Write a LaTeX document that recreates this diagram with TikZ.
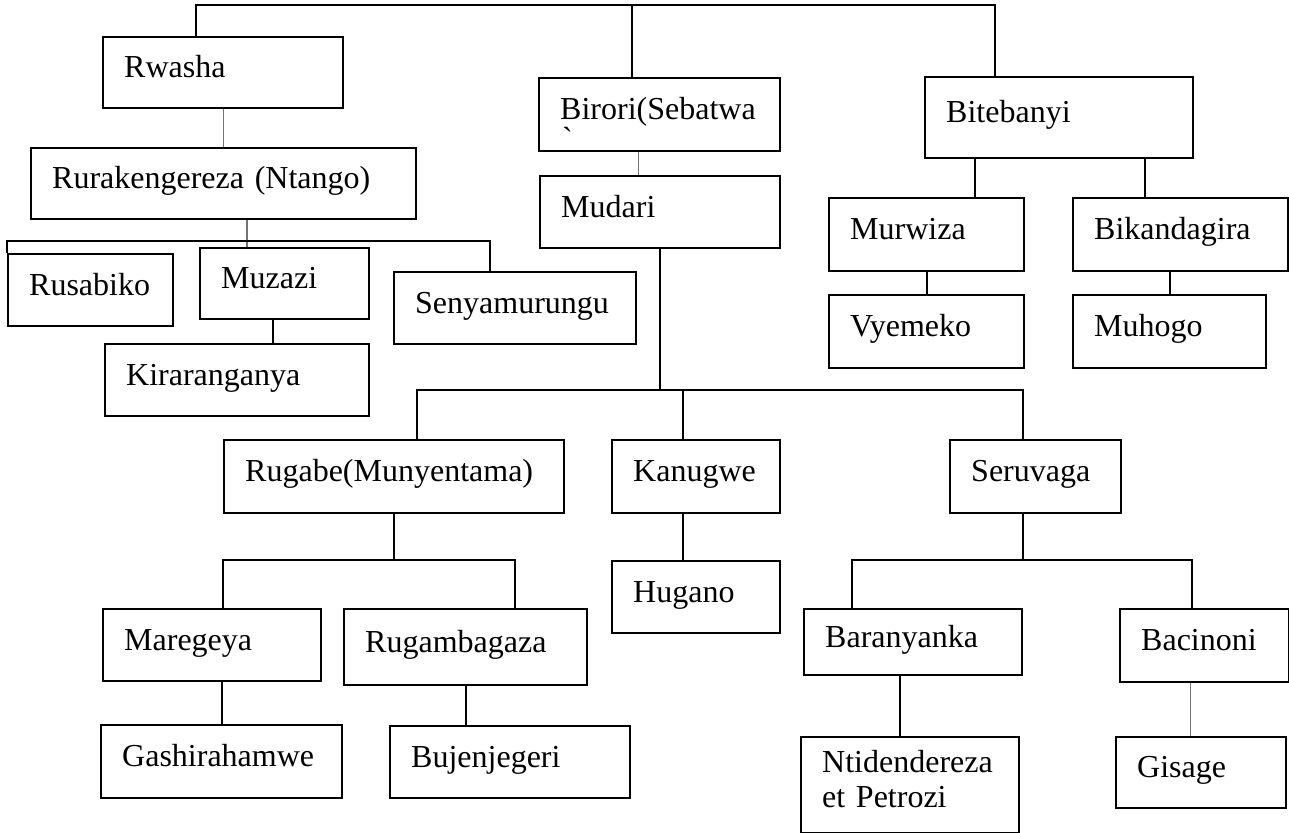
\documentclass[tikz,border=0pt]{standalone}
\usepackage{fontspec}
\setmainfont{Liberation Serif}
\hyphenpenalty=10000

\begin{document}
\begin{tikzpicture}[
  x=0.5pt, y=-0.5pt,
  every node/.style={font=\fontsize{16}{17.5}\selectfont},
  box/.style={rectangle, draw=black, line width=1.2pt, anchor=north west, align=left, inner xsep=10.5pt, inner ysep=0pt,
    execute at begin node={\rule[-6pt]{0pt}{17pt}}, execute at end node={\rule[-6pt]{0pt}{17pt}}},
  link/.style={draw=black, line width=0.9pt},
  thinlink/.style={draw=black!55, line width=0.6pt},
]
\useasboundingbox (0,0) rectangle (1289,833);

%% Row 1: Rwasha, Birori, Bitebanyi
\node[box, text width=99pt,   minimum height=35.5pt] (rwasha) at (102,36)  {Rwasha};
\node[box, text width=99.5pt, minimum height=36.5pt] (birori) at (538,77)  {\smash{\rlap{\kern1pt\raisebox{-15pt}{\textasciigrave}}}Birori(Sebatwa};
\node[box, text width=113pt,  minimum height=40.5pt] (bite)   at (924,76)  {Bitebanyi};

%% Rwasha branch
\node[box, text width=171.5pt, minimum height=35.5pt] (rurak)    at (30,147)  {Rurakengereza (Ntango)};
\node[box, text width=61.5pt,  minimum height=36pt]   (rusabiko) at (7,253)   {Rusabiko};
\node[box, text width=63.5pt,  minimum height=35.5pt] (muzazi)   at (199,247) {Muzazi};
\node[box, text width=100pt,   minimum height=36pt]   (senya)    at (393,271) {Senyamurungu};
\node[box, text width=111pt,   minimum height=36pt]   (kirar)    at (104,343) {Kiraranganya};

%% Birori branch
\node[box, text width=99pt,  minimum height=36pt]   (mudari)   at (539,175) {Mudari};
\node[box, text width=149pt, minimum height=36.5pt] (rugabe)   at (223,439) {Rugabe(Munyentama)};
\node[box, text width=63pt,  minimum height=36.5pt] (kanugwe)  at (611,439) {Kanugwe};
\node[box, text width=64.5pt, minimum height=36.5pt] (seruvaga) at (949,439) {Seruvaga};
\node[box, text width=63pt,  minimum height=36pt]   (hugano)   at (611,560) {Hugano};
\node[box, text width=88pt,  minimum height=36pt]   (maregeya) at (102,608) {Maregeya};
\node[box, text width=100.5pt, minimum height=38pt] (rugamb)   at (343,608) {Rugambagaza};
\node[box, text width=99.5pt, minimum height=36.5pt] (gashira) at (100,724) {Gashirahamwe};
\node[box, text width=99pt,  minimum height=36pt]   (bujen)    at (389,725) {Bujenjegeri};
\node[box, text width=88pt,  minimum height=33pt]   (baran)    at (803,608) {Baranyanka};
\node[box, text width=63.5pt, minimum height=36.5pt] (bacin)   at (1119,608) {Bacinoni};
\node[box, text width=88pt,  minimum height=48pt]   (ntid)     at (800,736) {Ntidendereza\\et Petrozi};
\node[box, text width=64pt,  minimum height=35.5pt] (gisage)   at (1115,736) {Gisage};

%% Bitebanyi branch
\node[box, text width=76.5pt, minimum height=36.5pt] (murwiza) at (828,197)  {Murwiza};
\node[box, text width=76.5pt, minimum height=36.5pt] (vyemeko) at (828,294)  {Vyemeko};
\node[box, text width=86.5pt, minimum height=36.5pt] (bikand)  at (1072,197) {Bikandagira};
\node[box, text width=75.5pt, minimum height=36.5pt] (muhogo)  at (1072,294) {Muhogo};

%% Top bar
\coordinate (t1) at (196,5);
\coordinate (t2) at (632,5);
\coordinate (t3) at (995,5);
\draw[link] (rwasha.north -| t1) -- (t1) -- (t3) -- (bite.north -| t3);
\draw[link] (t2) -- (birori.north -| t2);

%% Rwasha links
\coordinate (r1) at (247,241);
\coordinate (r2) at (490,241);
\draw[thinlink] (rwasha.south) -- (rwasha.south |- rurak.north);
\draw[thinlink] (rurak.south -| r1) -- (muzazi.north -| r1);
\draw[link] (rusabiko.north west) -- (rusabiko.north west |- r1) -- (r2) -- (senya.north -| r2);
\draw[link] ([xshift=-6pt]muzazi.south) -- ([xshift=-6pt]muzazi.south |- kirar.north);

%% Birori links
\coordinate (m0) at (659,390);
\coordinate (m1) at (417,390);
\coordinate (m2) at (683,390);
\coordinate (m3) at (1023,390);
\draw[thinlink] ([xshift=-10.75pt]birori.south) -- ([xshift=-10.75pt]birori.south |- mudari.north);
\draw[link] (mudari.south) -- (mudari.south |- m0);
\draw[link] (rugabe.north -| m1) -- (m1) -- (m3) -- (seruvaga.north -| m3);
\draw[link] (m2) -- (kanugwe.north -| m2);
\draw[link] (kanugwe.south -| m2) -- (hugano.north -| m2);

%% Rugabe links
\coordinate (g1) at (223,560);
\coordinate (g2) at (515,560);
\draw[link] (rugabe.south) -- (rugabe.south |- g1);
\draw[link] (maregeya.north -| g1) -- (g1) -- (g2) -- (rugamb.north -| g2);
\draw[link] (gashira.north |- maregeya.south) -- (gashira.north);
\draw[link] (rugamb.south) -- (rugamb.south |- bujen.north);

%% Seruvaga links
\coordinate (s1) at (852,560);
\coordinate (s2) at (1192,560);
\draw[link] (seruvaga.south -| m3) -- (m3 |- s1);
\draw[link] (baran.north -| s1) -- (s1) -- (s2) -- (bacin.north -| s2);
\draw[link] ([xshift=-6.5pt]baran.south) -- ([xshift=-6.5pt]baran.south |- ntid.north);
\draw[thinlink] ([xshift=-7.25pt]bacin.south) -- ([xshift=-7.25pt]bacin.south |- gisage.north);

%% Bitebanyi links
\draw[link] ([xshift=24pt]murwiza.north) -- ([xshift=24pt]murwiza.north |- bite.south);
\draw[link] ([xshift=-18pt]bikand.north) -- ([xshift=-18pt]bikand.north |- bite.south);
\draw[link] (murwiza) -- (vyemeko);
\draw[link] (muhogo.north |- bikand.south) -- (muhogo.north);

\end{tikzpicture}
\end{document}
